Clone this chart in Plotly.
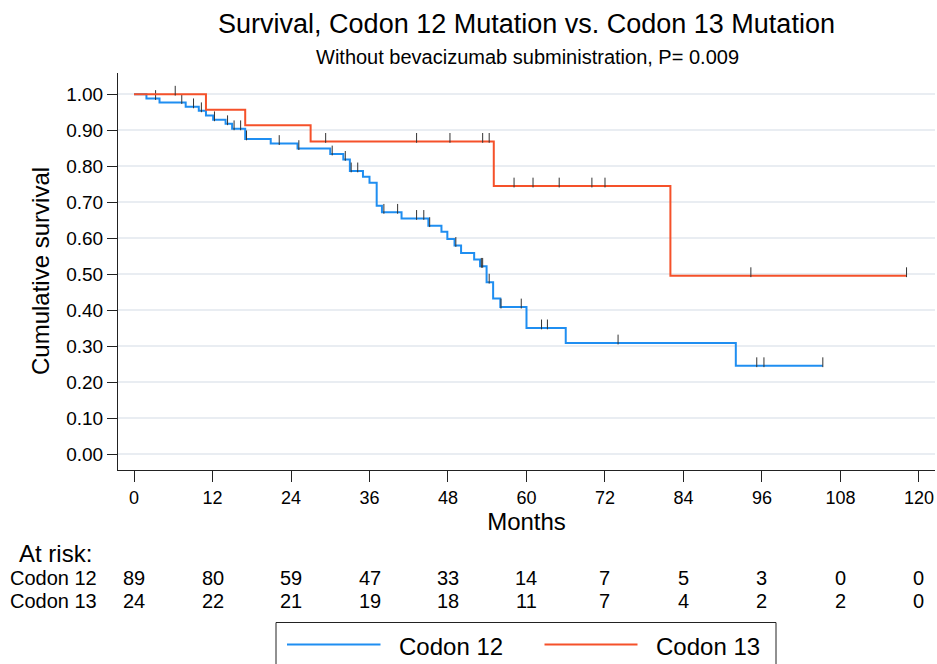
import plotly.graph_objects as go

# ---------------- data ----------------
times12 = [1.9, 3.9, 7.9, 9.9, 11.0, 12.1, 14.0, 15.0, 17.0, 20.9, 25.0, 30.0, 32.0, 33.0, 35.0,
           36.0, 37.1, 37.9, 40.9, 45.0, 47.0, 47.9, 49.0, 50.0, 52.0, 52.9, 53.9, 54.9, 56.0, 60.0,
           66.0, 92.0]
surv12 = [0.988, 0.977, 0.965, 0.954, 0.941, 0.929, 0.918, 0.904, 0.876, 0.863, 0.849, 0.834, 0.819,
          0.787, 0.771, 0.754, 0.690, 0.672, 0.655, 0.635, 0.618, 0.598, 0.580, 0.559, 0.541, 0.522,
          0.478, 0.433, 0.409, 0.351, 0.309, 0.246]
end12 = 105.3
cens12 = [3.3, 7.3, 9.1, 10.3, 12.3, 14.3, 15.3, 16.3, 17.2, 22.2, 25.2, 30.3, 32.3, 33.2, 34.2,
          38.2, 40.3, 43.2, 44.3, 45.2, 49.2, 53.1, 53.3, 54.3, 56.1, 59.2, 62.3, 63.2, 74.0, 95.2,
          96.3, 105.3]

times13 = [11.0, 17.0, 27.0, 55.0, 82.0]
surv13 = [0.957, 0.914, 0.869, 0.745, 0.496]
end13 = 118.1
cens13 = [6.3, 29.3, 43.2, 48.3, 53.3, 54.3, 58.1, 61.0, 65.0, 70.0, 72.0, 94.3, 118.1]

risk_times = [0, 12, 24, 36, 48, 60, 72, 84, 96, 108, 120]
risk12 = [89, 80, 59, 47, 33, 14, 7, 5, 3, 0, 0]
risk13 = [24, 22, 21, 19, 18, 11, 7, 4, 2, 2, 0]

y_ticks = [0.0, 0.1, 0.2, 0.3, 0.4, 0.5, 0.6, 0.7, 0.8, 0.9, 1.0]

# ---------------- layout constants ----------------
W, H = 937, 664
PL, PR, PT, PB = 118, 935, 73, 470          # plot area in pixels
XR = [-2.447, 122.45]
YR = [-0.0436, 1.059]
BLUE = "#1f8ef1"
RED = "#f5512a"
FONT = "Arial, Liberation Sans, sans-serif"


def pxx(p):
    return (p - PL) / (PR - PL)


def pyy(p):
    return (PB - p) / (PB - PT)


def step_xy(times, surv, end):
    xs = [0.0] + list(times) + [end]
    ys = [1.0] + list(surv) + [surv[-1]]
    return xs, ys


def surv_at(t, times, surv):
    s = 1.0
    for ti, si in zip(times, surv):
        if ti <= t:
            s = si
    return s


tick_off = 3.5 * (YR[1] - YR[0]) / (PB - PT)   # lift censor ticks so they sit on the line

fig = go.Figure()
for times, surv, end, cens, col, name in [
    (times12, surv12, end12, cens12, BLUE, "Codon 12"),
    (times13, surv13, end13, cens13, RED, "Codon 13"),
]:
    xs, ys = step_xy(times, surv, end)
    fig.add_trace(go.Scatter(x=xs, y=ys, mode="lines", line=dict(color=col, width=2, shape="hv"),
                             name=name, showlegend=False, hoverinfo="skip"))
    cy = [surv_at(t, times, surv) + tick_off for t in cens]
    fig.add_trace(go.Scatter(x=cens, y=cy, mode="markers",
                             marker=dict(symbol="line-ns", size=7, line=dict(color="#333333", width=1)),
                             showlegend=False, hoverinfo="skip"))

annotations = []
# subtitle
annotations.append(dict(text="Without bevacizumab subministration, P= 0.009", xref="paper", yref="paper",
                        x=pxx(527), y=pyy(57), showarrow=False, xanchor="center", yanchor="middle",
                        font=dict(size=20, color="black", family=FONT)))
# y-axis title
annotations.append(dict(text="Cumulative survival", xref="paper", yref="paper", x=pxx(40), y=pyy(271),
                        textangle=-90, showarrow=False, xanchor="center", yanchor="middle",
                        font=dict(size=24, color="black", family=FONT)))
# at risk
annotations.append(dict(text="At risk:", xref="paper", yref="paper", x=pxx(17), y=pyy(553),
                        showarrow=False, xanchor="left", yanchor="middle",
                        font=dict(size=24, color="black", family=FONT)))
for label, vals, ypix in [("Codon 12", risk12, 578), ("Codon 13", risk13, 601)]:
    annotations.append(dict(text=label, xref="paper", yref="paper", x=pxx(8), y=pyy(ypix),
                            showarrow=False, xanchor="left", yanchor="middle",
                            font=dict(size=20, color="black", family=FONT)))
    for t, v in zip(risk_times, vals):
        annotations.append(dict(text=str(v), xref="x", yref="paper", x=t, y=pyy(ypix),
                                showarrow=False, xanchor="center", yanchor="middle",
                                font=dict(size=20, color="black", family=FONT)))
# legend (custom)
shapes = [dict(type="rect", xref="paper", yref="paper", x0=pxx(276), x1=pxx(776), y0=pyy(622.5),
               y1=pyy(720), line=dict(color="#222222", width=1), fillcolor="rgba(0,0,0,0)")]
for x0, x1, col, tx, label in [(287, 380.5, BLUE, 397, "Codon 12"), (544.5, 637.5, RED, 653.5, "Codon 13")]:
    shapes.append(dict(type="line", xref="paper", yref="paper", x0=pxx(x0), x1=pxx(x1),
                       y0=pyy(644.5), y1=pyy(644.5), line=dict(color=col, width=2)))
    annotations.append(dict(text=label, xref="paper", yref="paper", x=pxx(tx), y=pyy(646.5),
                            showarrow=False, xanchor="left", yanchor="middle",
                            font=dict(size=24, color="black", family=FONT)))

fig.update_layout(
    width=W, height=H, autosize=False,
    margin=dict(l=PL, r=W - PR, t=PT, b=H - PB, pad=0),
    paper_bgcolor="white", plot_bgcolor="white",
    font=dict(family=FONT, color="black"),
    title=dict(text="Survival, Codon 12 Mutation vs. Codon 13 Mutation", xref="container", yref="container",
               x=526.5 / W, y=1 - 24 / H, xanchor="center", yanchor="middle",
               font=dict(size=27, color="black", family=FONT)),
    showlegend=False,
    annotations=annotations,
    shapes=shapes,
)
fig.update_xaxes(range=XR, tickmode="array", tickvals=risk_times, ticktext=[str(t) for t in risk_times],
                 showgrid=False, zeroline=False, showline=True, linecolor="#222222", linewidth=1,
                 ticks="outside", ticklen=11, tickwidth=1, tickcolor="#222222",
                 tickfont=dict(size=18, color="black", family=FONT),
                 title=dict(text="Months", font=dict(size=24, color="black", family=FONT), standoff=2))
fig.update_yaxes(range=YR, tickmode="array", tickvals=y_ticks, ticktext=[f"{v:.2f}" for v in y_ticks],
                 showgrid=True, gridcolor="#e9edf2", gridwidth=1.5, zeroline=False,
                 showline=True, linecolor="#222222", linewidth=1,
                 ticks="outside", ticklen=10, tickwidth=1, tickcolor="#222222",
                 tickfont=dict(size=19, color="black", family=FONT))

fig.write_html("out.html", config={"displayModeBar": False},
               post_script="document.body.style.margin='0';document.body.style.overflow='hidden';")
